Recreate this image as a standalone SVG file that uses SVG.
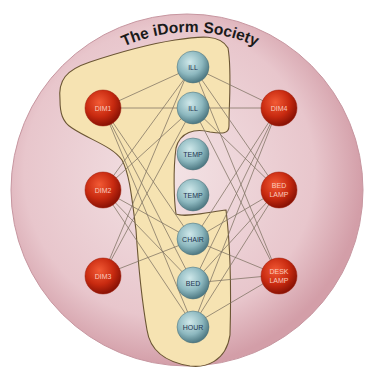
<svg xmlns="http://www.w3.org/2000/svg" width="372" height="374" viewBox="0 0 372 374">
<defs>
<radialGradient id="bg" cx="45%" cy="45%" r="55%">
<stop offset="0" stop-color="#f3e3e5"/>
<stop offset="0.75" stop-color="#e8c6cc"/>
<stop offset="1" stop-color="#d39ea8"/>
</radialGradient>
<radialGradient id="red" cx="40%" cy="35%" r="65%">
<stop offset="0" stop-color="#f25a35"/>
<stop offset="0.6" stop-color="#c82a10"/>
<stop offset="1" stop-color="#8a1205"/>
</radialGradient>
<radialGradient id="blue" cx="40%" cy="35%" r="65%">
<stop offset="0" stop-color="#cfe8ea"/>
<stop offset="0.6" stop-color="#8db8bf"/>
<stop offset="1" stop-color="#4f7a84"/>
</radialGradient>
<path id="arc" d="M 80 76 A 160 160 0 0 1 300 76"/>
</defs>
<style>
.lnk{stroke:#7d7262;stroke-width:1;stroke-opacity:0.75;fill:none}
.rn{fill:url(#red);stroke:#9a1a08;stroke-width:0.5}
.bn{fill:url(#blue);stroke:#4a6e76;stroke-width:0.5}
.rt{font-family:"Liberation Sans",Arial,sans-serif;font-size:7px;fill:#f9c9bb;text-anchor:middle}
.bt{font-family:"Liberation Sans",Arial,sans-serif;font-size:7px;fill:#1e3550;text-anchor:middle}
</style>
<rect width="372" height="374" fill="#ffffff"/>
<circle cx="187" cy="190" r="176" fill="url(#bg)" stroke="#c796a0" stroke-width="1"/>
<text font-family="'Liberation Sans',Arial,sans-serif" font-size="15.5" font-weight="bold" fill="#1a1a1a"><textPath href="#arc" startOffset="50%" text-anchor="middle">The iDorm Society</textPath></text>
<path id="region" d="M 60 100 C 58 80 66 70 90 62 C 120 52 150 44 175 40 C 200 36 220 34 228 48 C 232 70 229 100 229 126 C 229 134 222 134 210 132 C 195 128 180 132 176 148 C 173 170 174 200 176 214 C 185 218 210 212 226 210 C 231 250 231 300 230 335 C 226 362 205 368 190 366 C 165 362 150 350 147 330 C 140 290 138 260 136 230 C 132 200 130 175 122 160 C 112 146 90 140 72 128 C 62 122 60 112 60 100 Z" fill="#f6e3b2" stroke="#6b5634" stroke-width="1.1"/>
<g id="connectors">
<line class="lnk" x1="103" y1="108" x2="193" y2="67"/>
<line class="lnk" x1="103" y1="108" x2="278" y2="108"/>
<line class="lnk" x1="103" y1="108" x2="193" y2="240"/>
<line class="lnk" x1="103" y1="108" x2="193" y2="283"/>
<line class="lnk" x1="103" y1="108" x2="193" y2="325"/>
<line class="lnk" x1="103" y1="190" x2="193" y2="67"/>
<line class="lnk" x1="103" y1="190" x2="193" y2="108"/>
<line class="lnk" x1="103" y1="190" x2="193" y2="240"/>
<line class="lnk" x1="103" y1="190" x2="193" y2="283"/>
<line class="lnk" x1="103" y1="190" x2="193" y2="325"/>
<line class="lnk" x1="103" y1="275" x2="193" y2="108"/>
<line class="lnk" x1="103" y1="275" x2="193" y2="240"/>
<line class="lnk" x1="103" y1="275" x2="190" y2="67"/>
<line class="lnk" x1="278" y1="108" x2="193" y2="67"/>
<line class="lnk" x1="278" y1="108" x2="193" y2="240"/>
<line class="lnk" x1="278" y1="108" x2="193" y2="283"/>
<line class="lnk" x1="278" y1="108" x2="193" y2="325"/>
<line class="lnk" x1="278" y1="190" x2="193" y2="67"/>
<line class="lnk" x1="278" y1="190" x2="193" y2="108"/>
<line class="lnk" x1="278" y1="190" x2="193" y2="240"/>
<line class="lnk" x1="278" y1="190" x2="193" y2="283"/>
<line class="lnk" x1="278" y1="190" x2="193" y2="325"/>
<line class="lnk" x1="278" y1="275" x2="193" y2="67"/>
<line class="lnk" x1="278" y1="275" x2="193" y2="108"/>
<line class="lnk" x1="278" y1="275" x2="193" y2="240"/>
<line class="lnk" x1="278" y1="275" x2="193" y2="283"/>
<line class="lnk" x1="278" y1="275" x2="193" y2="325"/>
</g>
<g id="n-dim1"><circle class="rn" cx="103" cy="108" r="18"/><text class="rt" x="103" y="110.5">DIM1</text></g>
<g id="n-dim2"><circle class="rn" cx="103" cy="190" r="18"/><text class="rt" x="103" y="192.5">DIM2</text></g>
<g id="n-dim3"><circle class="rn" cx="103" cy="276" r="18"/><text class="rt" x="103" y="278.5">DIM3</text></g>
<g id="n-dim4"><circle class="rn" cx="279" cy="108" r="18"/><text class="rt" x="279" y="110.5">DIM4</text></g>
<g id="n-bedlamp"><circle class="rn" cx="279" cy="190" r="18"/><text class="rt" x="279" y="188">BED</text><text class="rt" x="279" y="197">LAMP</text></g>
<g id="n-desklamp"><circle class="rn" cx="279" cy="276" r="18"/><text class="rt" x="279" y="274">DESK</text><text class="rt" x="279" y="283">LAMP</text></g>
<g id="n-ill1"><circle class="bn" cx="193" cy="67" r="16"/><text class="bt" x="193" y="69.5">ILL</text></g>
<g id="n-ill2"><circle class="bn" cx="193" cy="108" r="16"/><text class="bt" x="193" y="110.5">ILL</text></g>
<g id="n-temp1"><circle class="bn" cx="193" cy="154" r="16"/><text class="bt" x="193" y="156.5">TEMP</text></g>
<g id="n-temp2"><circle class="bn" cx="193" cy="195" r="16"/><text class="bt" x="193" y="197.5">TEMP</text></g>
<g id="n-chair"><circle class="bn" cx="193" cy="239" r="16"/><text class="bt" x="193" y="241.5">CHAIR</text></g>
<g id="n-bed"><circle class="bn" cx="193" cy="283" r="16"/><text class="bt" x="193" y="285.5">BED</text></g>
<g id="n-hour"><circle class="bn" cx="193" cy="327" r="16"/><text class="bt" x="193" y="329.5">HOUR</text></g>
</svg>
